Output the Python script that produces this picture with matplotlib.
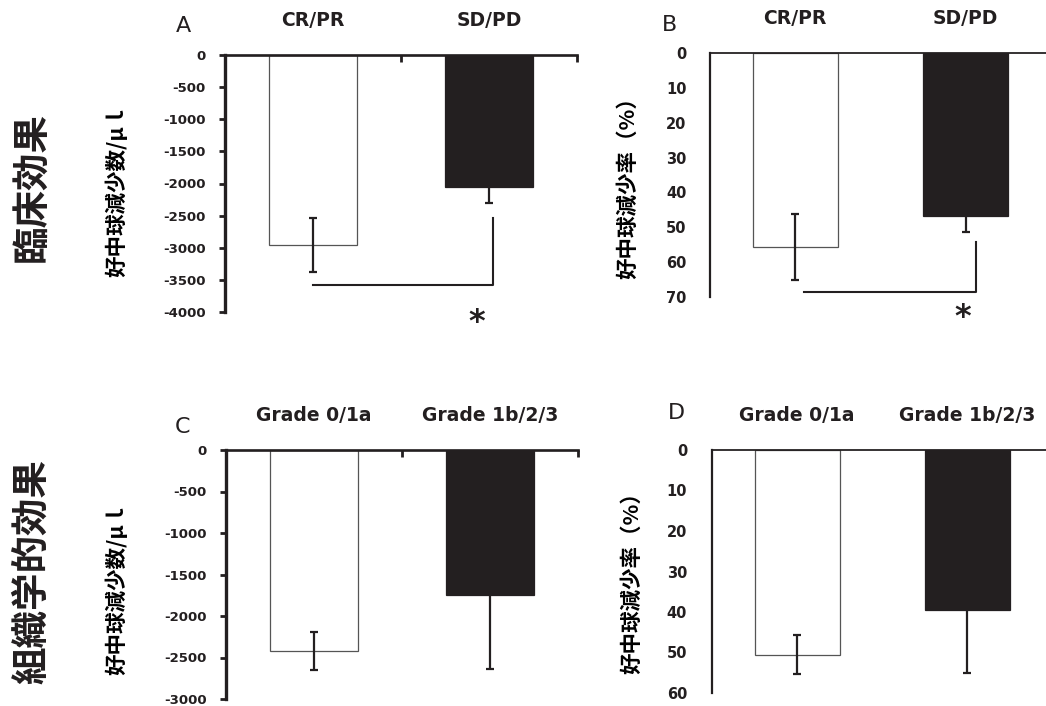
import matplotlib as mpl
mpl.use('Agg')
import matplotlib.pyplot as plt

plt.rcParams['font.family'] = ['DejaVu Sans', 'Noto Sans CJK JP']
plt.rcParams['axes.unicode_minus'] = False

ink = '#231f20'

# clinical response groups (top row) / histological grade groups (bottom row)
clin_groups = ['CR/PR', 'SD/PD']
hist_groups = ['Grade 0/1a', 'Grade 1b/2/3']

# neutrophil decrease count (/ul)
clin_count = [-2960, -2060]
clin_count_err = [420, 250]
hist_count = [-2420, -1750]
hist_count_err = [230, 890]

# neutrophil decrease rate (%)
clin_rate = [55.6, 46.8]
clin_rate_err = [9.4, 4.5]
hist_rate = [50.6, 39.5]
hist_rate_err = [4.8, 15.5]

# significance brackets: (x start, x end, bracket level, top of right leg)
sig_count = (0.0, 1.02, -3580, -2530)
sig_rate = (0.05, 1.06, 68.6, 54.2)
star_count = (0.93, -4156)
star_rate = (0.984, 76.0)

count_label = '好中球減少数/μｌ'
rate_label = '好中球減少率（%）'
cjk = ['Noto Sans CJK JP', 'DejaVu Sans']

fig = plt.figure(figsize=(10.46, 7.06), dpi=100)

def px_axes(l, r, t, b):
    return fig.add_axes([l / 1046, 1 - b / 706, (r - l) / 1046, (b - t) / 706])

def setup(ax, groups, spine_w, yticks, boundary):
    for s in ['right', 'bottom']:
        ax.spines[s].set_visible(False)
    ax.spines['top'].set_linewidth(spine_w * 0.8)
    ax.spines['left'].set_linewidth(spine_w)
    ax.spines['top'].set_color(ink)
    ax.spines['left'].set_color(ink)
    ax.set_xlim(-0.5, 1.5)
    ax.xaxis.set_ticks_position('top')
    ax.set_xticks([0, 1])
    ax.set_xticklabels(groups, fontsize=13.5, fontweight='bold', color=ink)
    ax.tick_params(axis='x', which='major', length=0, pad=18)
    if boundary:
        ax.set_xticks([0.5, 1.5], minor=True)
        ax.tick_params(axis='x', which='minor', direction='in', length=5,
                       width=2, color=ink, top=True)
    ax.set_yticks(yticks)
    for lab in ax.get_yticklabels():
        lab.set_fontweight('bold')
        lab.set_color(ink)

def bars(ax, vals, errs):
    ax.bar([0, 1], vals, width=0.5, color=['white', ink],
           edgecolor=['#555555', ink], linewidth=0.9, zorder=2)
    ax.errorbar([0, 1], vals, yerr=errs, fmt='none', ecolor=ink,
                elinewidth=1.6, capsize=3, capthick=1.6, zorder=3)

def bracket(ax, sig, star):
    x0, x1, lvl, top = sig
    ax.plot([x0, x1, x1], [lvl, lvl, top], color=ink, lw=1.5,
            clip_on=False, zorder=3)
    ax.text(star[0], star[1], '*', fontsize=23, fontweight='bold',
            ha='center', va='center', color=ink, clip_on=False)

# A
axA = px_axes(225, 577, 55, 312)
bars(axA, clin_count, clin_count_err)
axA.set_ylim(-4000, 0)
setup(axA, clin_groups, 2.4, range(-4000, 1, 500), True)
axA.tick_params(axis='y', length=4, width=2, color=ink, labelsize=9.5, pad=10)
bracket(axA, sig_count, star_count)
axA.set_ylabel(count_label, fontsize=15.5, fontweight='bold', family=cjk)
axA.yaxis.set_label_coords(-0.278, 0.475)

# B
axB = px_axes(710, 1051, 53, 297)
bars(axB, clin_rate, clin_rate_err)
axB.set_ylim(70, 0)
setup(axB, clin_groups, 1.6, range(0, 71, 10), False)
axB.tick_params(axis='y', length=0, labelsize=10.5, pad=17)
bracket(axB, sig_rate, star_rate)
axB.set_ylabel(rate_label, fontsize=15.5, fontweight='bold', family=cjk)
axB.yaxis.set_label_coords(-0.211, 0.471)

# C
axC = px_axes(226, 578, 450, 699)
bars(axC, hist_count, hist_count_err)
axC.set_ylim(-3000, 0)
setup(axC, hist_groups, 2.4, range(-3000, 1, 500), True)
axC.tick_params(axis='y', length=4, width=2, color=ink, labelsize=9.5, pad=10)
axC.set_ylabel(count_label, fontsize=15.5, fontweight='bold', family=cjk)
axC.yaxis.set_label_coords(-0.281, 0.444)

# D
axD = px_axes(712, 1052, 450, 693)
bars(axD, hist_rate, hist_rate_err)
axD.set_ylim(60, 0)
setup(axD, hist_groups, 1.6, range(0, 61, 10), False)
axD.tick_params(axis='y', length=0, labelsize=10.5, pad=18)
axD.set_ylabel(rate_label, fontsize=15.5, fontweight='bold', family=cjk)
axD.yaxis.set_label_coords(-0.206, 0.473)

# panel letters
for letter, x, y in [('A', 183, 26), ('B', 670, 25), ('C', 182, 427), ('D', 676, 413)]:
    fig.text(x / 1046, 1 - y / 706, letter, fontsize=16, ha='center',
             va='center', color=ink)

# row titles
fig.text(31.5 / 1046, 1 - 187 / 706, '臨床効果', rotation=90, fontsize=27,
         fontweight='bold', ha='center', va='center', color=ink, family=cjk)
fig.text(31.5 / 1046, 1 - 571 / 706, '組織学的効果', rotation=90, fontsize=27,
         fontweight='bold', ha='center', va='center', color=ink, family=cjk)

fig.savefig('out.png', dpi=100)
